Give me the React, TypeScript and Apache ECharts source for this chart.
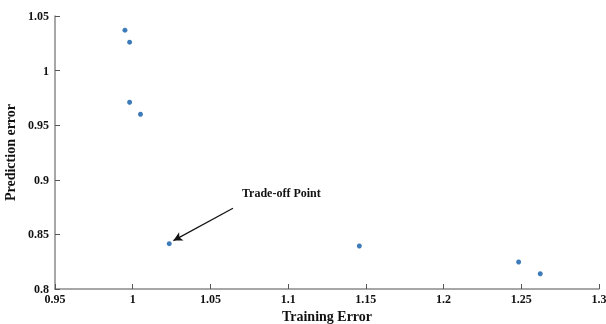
import React, { useEffect, useRef } from "react";
import * as echarts from "echarts";

const trainingError = [0.995, 0.998, 0.998, 1.005, 1.0235, 1.1458, 1.2483, 1.2622];
const predictionError = [1.037, 1.026, 0.971, 0.96, 0.8415, 0.8394, 0.8247, 0.814];
const xTicks = { min: 0.95, max: 1.3, interval: 0.05 };
const yTicks = { min: 0.8, max: 1.05, interval: 0.05 };
const arrowFrom = [1.0645, 0.874];
const arrowTo = [1.0262, 0.8443];
const annotationText = "Trade-off Point";

const fmt = (v: number) => String(parseFloat(v.toFixed(2)));

export default function App() {
  const ref = useRef<HTMLDivElement>(null);
  useEffect(() => {
    if (!ref.current) return;
    const chart = echarts.init(ref.current, undefined, { renderer: "svg" });
    const font = "'Liberation Serif', 'Times New Roman', serif";
    const axisCommon = {
      axisLine: { show: true, lineStyle: { color: "#8a8a8a", width: 1.5 } },
      axisTick: { show: true, inside: true, length: 5, lineStyle: { color: "#555", width: 1 } },
      splitLine: { show: false },
      axisLabel: { color: "#111", fontFamily: font, fontWeight: "bold", fontSize: 12, formatter: fmt },
      nameTextStyle: { color: "#111", fontFamily: font, fontWeight: "bold", fontSize: 14 },
    };
    chart.setOption({
      animation: false,
      grid: { left: 55, right: 7, top: 16, bottom: 35, containLabel: false, outerBoundsMode: "none" },
      xAxis: {
        type: "value",
        ...xTicks,
        ...axisCommon,
        axisLabel: { ...axisCommon.axisLabel, margin: 4 },
        name: "Training Error",
        nameLocation: "middle",
        nameGap: 20,
        nameTextStyle: { ...axisCommon.nameTextStyle, lineHeight: 14 },
      },
      yAxis: {
        type: "value",
        ...yTicks,
        ...axisCommon,
        axisLabel: { ...axisCommon.axisLabel, margin: 6 },
        name: "Prediction error",
        nameLocation: "middle",
        nameGap: 38,
      },
      graphic: [
        {
          type: "text",
          left: 242,
          top: 187,
          style: { text: annotationText, fill: "#111", font: `bold 12px ${font}` },
        },
      ],
      series: [
        {
          type: "scatter",
          data: trainingError.map((x, i) => [x, predictionError[i]]),
          symbol: "circle",
          symbolSize: 5,
          itemStyle: { color: "#0d5aa8" },
          markLine: {
            silent: true,
            symbol: ["none", "arrow"],
            symbolSize: [7, 9],
            label: { show: false },
            lineStyle: { color: "#111", width: 1.2, type: "solid" },
            data: [[{ coord: arrowFrom }, { coord: arrowTo }]],
          },
        },
      ],
    });
    return () => chart.dispose();
  }, []);
  return <div ref={ref} style={{ width: 606, height: 324, position: "fixed", left: 0, top: 0 }} />;
}
